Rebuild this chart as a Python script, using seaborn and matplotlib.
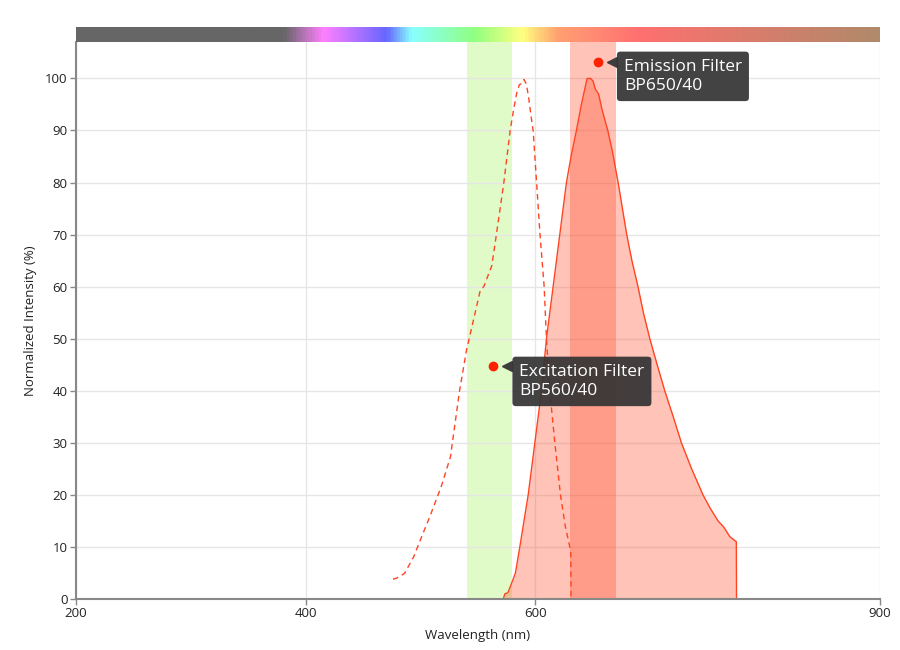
import numpy as np
import pandas as pd
import matplotlib
matplotlib.use("Agg")
import matplotlib.pyplot as plt
import seaborn as sns
from matplotlib.colors import LinearSegmentedColormap

# excitation spectrum (dashed)
ex_nm = [476, 479, 486, 494, 501, 508, 518, 526, 534, 540, 552, 555, 562, 566, 572.5, 578,
         581, 583.5, 586, 588, 590, 592, 594, 596, 598, 601, 604, 607.6, 609.6, 612.5,
         616.9, 621.8, 626, 629.9, 630.8, 631]
ex_val = [3.8, 4.0, 4.9, 8.1, 12.0, 15.8, 21.6, 27.3, 40.1, 47.8, 59.3, 60.0, 64.0, 70.0,
          80.0, 90.0, 94.0, 97.0, 98.8, 99.0, 99.8, 99.0, 96.5, 93.0, 90.0, 80.0, 70.0, 60.0,
          50.0, 40.0, 30.0, 20.0, 14.0, 10.0, 8.8, 0.0]

# emission spectrum (filled)
em_nm = [572, 573.4, 576, 579.2, 582.6, 586.4, 593.7, 599.5, 605.3, 609.6, 615.4, 621.2,
         627, 631, 635.7, 640, 643.5, 645, 648, 650.2, 652, 655, 658, 663, 667, 672, 679.5,
         684, 689.3, 694, 699.6, 706, 712.6, 720, 727.1, 736, 745.9, 752, 759, 764,
         769.2, 772, 774.9, 775.1]
em_val = [0.0, 1.0, 1.2, 3.0, 5.0, 10.0, 20.0, 30.0, 40.0, 50.0, 60.0, 70.0, 80.0, 85.0,
          90.0, 95.0, 98.5, 100.0, 100.0, 99.5, 98.0, 97.0, 94.0, 90.0, 86.0, 80.0, 70.0,
          65.0, 60.0, 55.0, 50.0, 45.0, 40.0, 35.0, 30.0, 25.0, 20.0, 17.5, 15.0, 13.8,
          12.0, 11.5, 11.0, 0.0]

# filter bands
ex_filter = (540, 580)
em_filter = (630, 670)
ex_label = "Excitation Filter\nBP560/40"
em_label = "Emission Filter\nBP650/40"

# spectrum color bar stops
spec_nm = [200, 380, 415, 470, 492, 547, 589, 620, 650, 689, 900]
spec_colors = ["#666666", "#666666", "#ff80ff", "#6666ff", "#88ffff", "#90ff80",
               "#ffff80", "#ffa070", "#ff8c74", "#ff7070", "#b08a6a"]

x_ticks = [200, 400, 600, 900]
y_ticks = list(range(0, 101, 10))

sns.set_theme(style="whitegrid")
plt.rcParams["font.family"] = ["Open Sans", "DejaVu Sans"]

fig = plt.figure(figsize=(9, 6.5), dpi=100)
ax = fig.add_axes([76 / 900, 51 / 650, 804 / 900, 557 / 650])
bar_ax = fig.add_axes([76 / 900, 608 / 650, 804 / 900, 15 / 650])

line_col = "#ff4422"
fill_col = "#ff5030"

ax.axvspan(*ex_filter, color="#e0fbc8", lw=0, zorder=0)
ax.axvspan(*em_filter, color=fill_col, alpha=0.34, lw=0, zorder=1)

em_df = pd.DataFrame({"nm": em_nm, "val": em_val})
ex_df = pd.DataFrame({"nm": ex_nm, "val": ex_val})
ax.fill_between(em_df["nm"], 0, em_df["val"], color=fill_col, alpha=0.34, lw=0, zorder=1)
sns.lineplot(data=em_df, x="nm", y="val", ax=ax, color=line_col, lw=1.0, sort=False,
             estimator=None, zorder=3)
sns.lineplot(data=ex_df, x="nm", y="val", ax=ax, color=line_col, lw=1.0, sort=False,
             estimator=None, linestyle=(0, (4, 3)), zorder=3)

ax.set_xlim(200, 900)
ax.set_ylim(0, 107)
ax.set_xticks(x_ticks)
ax.set_yticks(y_ticks)
ax.grid(True, color="#e6e6e6", lw=1, zorder=0)
ax.set_axisbelow(True)
for s in ["top", "right"]:
    ax.spines[s].set_visible(False)
for s in ["left", "bottom"]:
    ax.spines[s].set_color("#888888")
    ax.spines[s].set_linewidth(1.5)
    ax.spines[s].set_zorder(4)
ax.tick_params(axis="both", length=4, width=1, color="#888888", labelsize=9.5,
               labelcolor="#222222", pad=2, direction="out", bottom=True, left=True)
ax.set_xlabel("Wavelength (nm)", fontsize=9.5, color="#222222", labelpad=6)
ax.set_ylabel("Normalized Intensity (%)", fontsize=9.5, color="#222222", labelpad=6)

# annotations
def note(dot, tip, txt_x, txt_y, text):
    ax.plot(*dot, "o", color="#ff2200", ms=6, zorder=6, clip_on=False)
    ax.plot(*tip, "<", color="#3d3d3d", ms=7, zorder=5, clip_on=False)
    ax.text(txt_x, txt_y, text, ha="left", va="center", fontsize=12.5, color="white",
            linespacing=1.3, zorder=6,
            bbox=dict(boxstyle="round,pad=0.4,rounding_size=0.2", fc="#333333",
                      ec="none", alpha=0.92))

note((563, 44.7), (575, 44.7), 586, 41.8, ex_label)
note((654.3, 103.1), (666.3, 103.1), 677, 100.4, em_label)

# spectrum bar
pos = [(v - spec_nm[0]) / (spec_nm[-1] - spec_nm[0]) for v in spec_nm]
cmap = LinearSegmentedColormap.from_list("spec", list(zip(pos, spec_colors)))
grad = np.linspace(0, 1, 800)[None, :]
bar_ax.imshow(grad, aspect="auto", cmap=cmap, extent=[200, 900, 0, 1])
bar_ax.set_axis_off()

fig.savefig("out.png", dpi=100)
